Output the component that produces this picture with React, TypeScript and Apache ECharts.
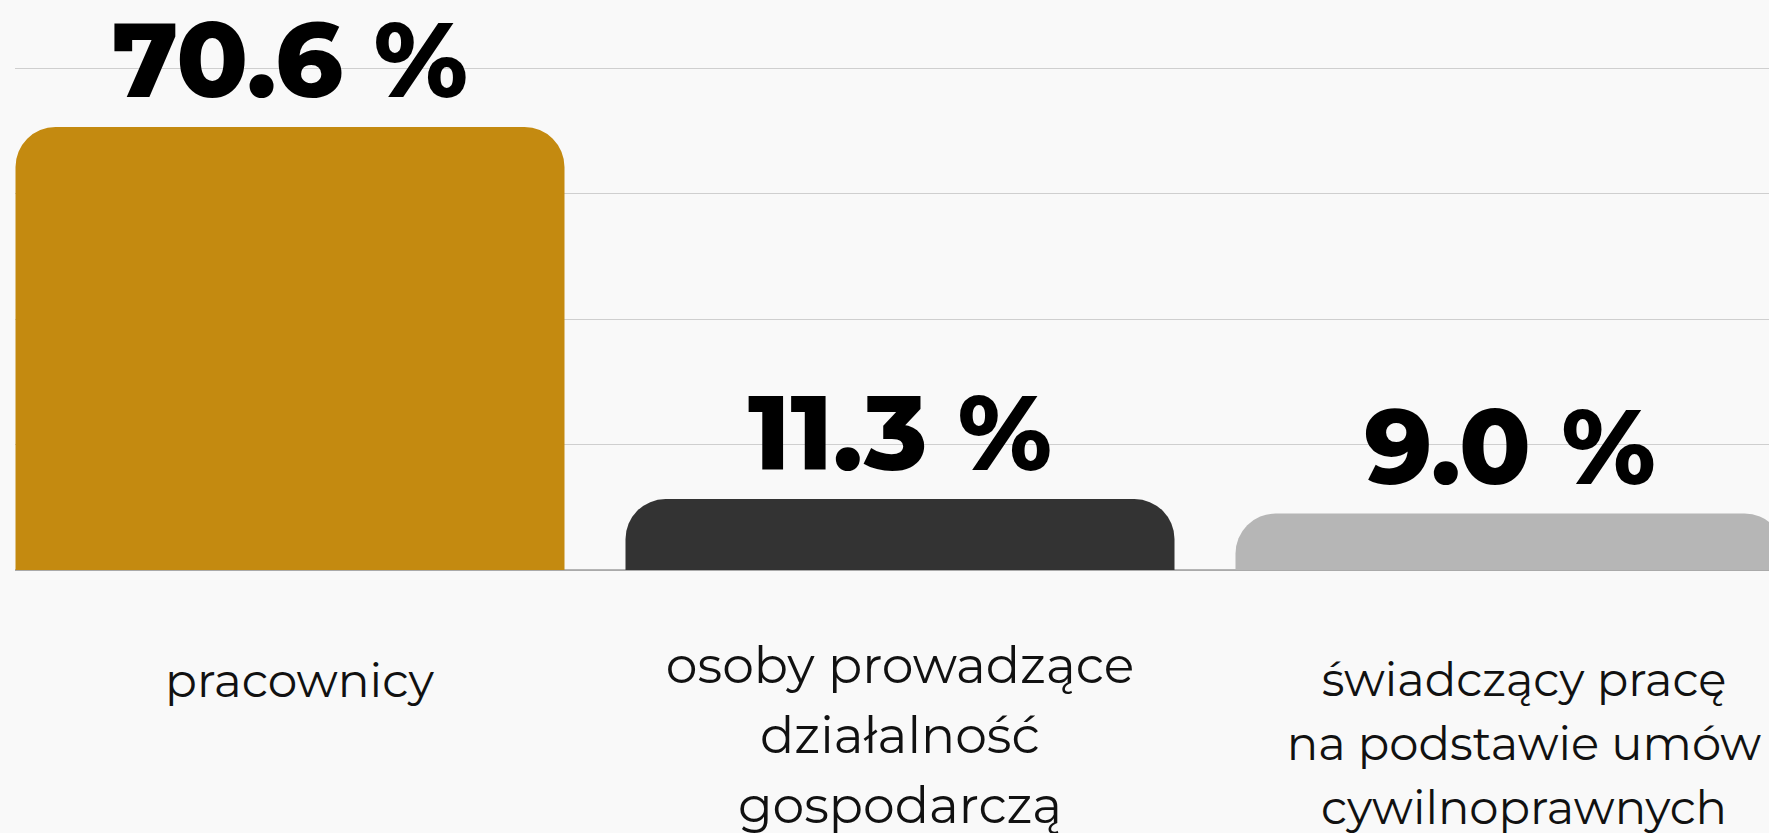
import React, { useEffect, useRef } from "react";
import * as echarts from "echarts";

const categories = [
  "pracownicy",
  "osoby prowadzące\ndziałalność\ngospodarczą",
  "świadczący pracę\nna podstawie umów\ncywilnoprawnych",
];
const values = [70.6, 11.3, 9.0];
const barColors = ["#c48a10", "#333333", "#b6b6b6"];
const labelFontSizes = [47, 50.5, 46.5];
const labelLineHeights = [64, 70, 64];
const labelPads = [
  [18, 0, 0, 19],
  [0, 0, 0, 0],
  [17, 0, 0, 28],
];
const yTicks = { min: 0, max: 80, interval: 20 };

const FONT = "Montserrat, 'Open Sans', sans-serif";

export default function App() {
  const ref = useRef<HTMLDivElement>(null);
  useEffect(() => {
    document.body.style.margin = "0";
    document.body.style.background = "#f9f9f9";
    const chart = echarts.init(ref.current!, null, { renderer: "svg" });
    chart.setOption({
      animation: false,
      backgroundColor: "#f9f9f9",
      grid: {
        left: 0,
        right: 0,
        top: 68,
        height: 502,
        containLabel: false,
        outerBoundsMode: "none",
      },
      xAxis: {
        type: "category",
        data: categories.map((c, i) => ({
          value: c,
          textStyle: {
            fontSize: labelFontSizes[i],
            lineHeight: labelLineHeights[i],
            padding: labelPads[i],
          },
        })),
        axisTick: { show: false },
        axisLine: { show: true, lineStyle: { color: "#9e9e9e", width: 1.5 } },
        axisLabel: {
          interval: 0,
          margin: 60,
          fontFamily: FONT,
          fontSize: 47,
          lineHeight: 64,
          color: "#111",
          align: "center",
        },
      },
      yAxis: {
        type: "value",
        min: yTicks.min,
        max: yTicks.max,
        interval: yTicks.interval,
        axisLabel: { show: false },
        axisLine: { show: false },
        axisTick: { show: false },
        splitLine: { lineStyle: { color: "#cfcfcf", width: 1 } },
      },
      series: [
        {
          type: "bar",
          barCategoryGap: "10%",
          data: values.map((v, i) => ({
            value: v,
            itemStyle: { color: barColors[i], borderRadius: [40, 40, 0, 0] },
          })),
          label: {
            show: true,
            position: "top",
            distance: 15,
            formatter: (p: any) => p.value.toFixed(1) + " %",
            fontFamily: FONT,
            fontWeight: 800,
            fontSize: 105,
            color: "#000",
          },
        },
      ],
    });
    return () => chart.dispose();
  }, []);
  return (
    <div style={{ width: 1769, height: 833, background: "#f9f9f9", position: "relative", overflow: "hidden" }}>
      <div style={{ position: "absolute", left: 15, top: 0, width: 1754, height: 833, overflow: "hidden" }}>
        <div ref={ref} style={{ position: "absolute", left: -30, top: 0, width: 1830, height: 833 }} />
      </div>
    </div>
  );
}
